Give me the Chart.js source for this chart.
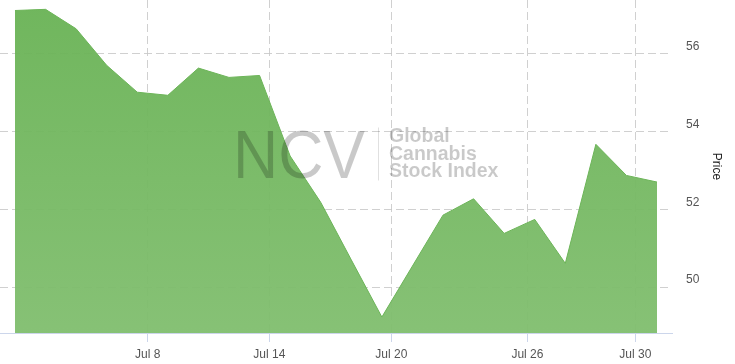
<!DOCTYPE html>
<html>
<head>
<meta charset="utf-8">
<script src="https://cdn.jsdelivr.net/npm/chart.js@4/dist/chart.umd.min.js"></script>
<style>
  html, body { margin: 0; padding: 0; background: #ffffff; }
  #wrap { width: 735px; height: 364px; position: relative; }
</style>
</head>
<body>
<div id="wrap"><canvas id="c" width="735" height="364"></canvas></div>
<script>
// ---- data ----
const pointIndex = [0,1,2,3,4,5,6,7,8,9,10,11,12,13,14,15,16,17,18,19,20,21];
const priceValues = [57.11, 57.14, 56.64, 55.70, 55.01, 54.93, 55.63, 55.39, 55.44, 53.37, 52.18,
                     50.70, 49.23, 50.54, 51.85, 52.27, 51.38, 51.74, 50.61, 53.67, 52.87, 52.70];
const xTickLabels = ['Jul 8', 'Jul 14', 'Jul 20', 'Jul 26', 'Jul 30'];
const xTickAt = [4.34, 8.32, 12.31, 16.76, 20.29];   // in point-index units
const yTickValues = [50, 52, 54, 56];

const GRID = 'rgba(200,200,200,0.85)';
const AXIS = '#ccd6eb';

const watermark = {
  id: 'watermark',
  afterDatasetsDraw(chart) {
    const ctx = chart.ctx, a = chart.chartArea;
    const cx = (a.left + a.right) / 2, cy = (a.top + a.bottom) / 2;
    ctx.save();
    ctx.fillStyle = 'rgba(0,0,0,0.21)';
    ctx.textBaseline = 'alphabetic';
    ctx.textAlign = 'left';
    ctx.save();
    ctx.translate(cx - 103, cy + 11);
    ctx.scale(0.92, 1);
    ctx.font = '68px "Liberation Sans", Arial, sans-serif';
    ctx.fillText('NCV', 0, 0);
    ctx.restore();
    ctx.fillStyle = 'rgba(0,0,0,0.12)';
    ctx.fillRect(cx + 42, cy - 39, 1, 53);
    ctx.fillStyle = 'rgba(0,0,0,0.21)';
    ctx.font = 'bold 19.5px "Liberation Sans", Arial, sans-serif';
    ctx.fillText('Global', cx + 53, cy - 24.5);
    ctx.fillText('Cannabis', cx + 53, cy - 7);
    ctx.fillText('Stock Index', cx + 53, cy + 10.5);
    ctx.restore();
  }
};

const ctx = document.getElementById('c').getContext('2d');
new Chart(ctx, {
  type: 'line',
  data: {
    datasets: [{
      label: 'Price',
      data: pointIndex.map((x, i) => ({ x: x, y: priceValues[i] })),
      fill: 'start',
      backgroundColor: (c) => {
        const a = c.chart.chartArea;
        if (!a) return 'rgba(112,181,92,0.95)';
        const g = c.chart.ctx.createLinearGradient(0, a.top, 0, a.bottom);
        g.addColorStop(0, 'rgba(104,178,84,0.95)');
        g.addColorStop(1, 'rgba(128,190,110,0.95)');
        return g;
      },
      borderColor: 'rgba(108,180,88,1)',
      borderWidth: 1,
      pointRadius: 0,
      pointHoverRadius: 0,
      tension: 0
    }]
  },
  options: {
    responsive: false,
    animation: false,
    layout: { padding: { left: 0, right: 0, top: 0, bottom: 0 } },
    plugins: { legend: { display: false }, tooltip: { enabled: false } },
    scales: {
      x: {
        type: 'linear',
        min: -0.49,
        max: 21.49,
        afterBuildTicks: (s) => { s.ticks = xTickAt.map(v => ({ value: v })); },
        afterFit: (s) => { s.height = 31; s.paddingLeft = 0; s.paddingRight = 0; },
        ticks: {
          autoSkip: false,
          maxRotation: 0,
          padding: 5,
          color: '#555',
          font: { family: '"Liberation Sans", Arial, sans-serif', size: 12 },
          callback: (v) => { const i = xTickAt.indexOf(v); return i >= 0 ? xTickLabels[i] : ''; }
        },
        grid: {
          color: GRID,
          lineWidth: 1,
          tickLength: 9,
          tickColor: AXIS,
          drawTicks: true
        },
        border: { display: true, color: AXIS, width: 1, dash: [8, 4] }
      },
      y: {
        position: 'right',
        min: 48.82,
        max: 57.38,
        afterBuildTicks: (s) => { s.ticks = yTickValues.map(v => ({ value: v })); },
        afterFit: (s) => { s.width = 63; s.paddingTop = 0; s.paddingBottom = 0; },
        ticks: {
          padding: 14,
          labelOffset: -7,
          color: '#555',
          font: { family: '"Liberation Sans", Arial, sans-serif', size: 12 }
        },
        grid: { color: GRID, lineWidth: 1, drawTicks: false, tickLength: 0 },
        border: { display: false, dash: [8, 4] },
        title: {
          display: true,
          text: 'Price',
          color: '#222',
          padding: { top: 11, bottom: 4 },
          font: { family: '"Liberation Sans", Arial, sans-serif', size: 12 }
        }
      }
    }
  },
  plugins: [watermark, {
    id: 'axisLine',
    afterDatasetsDraw(chart) {
      const c = chart.ctx, a = chart.chartArea;
      c.save();
      c.strokeStyle = AXIS; c.lineWidth = 1;
      c.beginPath(); c.moveTo(a.left, a.bottom + 0.5); c.lineTo(a.right, a.bottom + 0.5); c.stroke();
      c.restore();
    }
  }]
});
</script>
</body>
</html>
